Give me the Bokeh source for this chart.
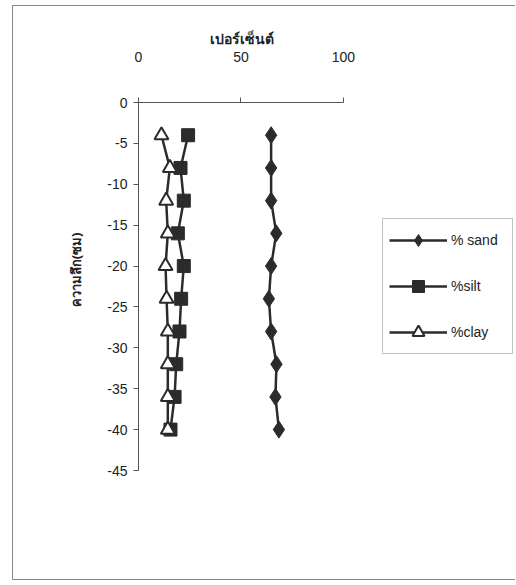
from bokeh.plotting import figure
from bokeh.models import (Range1d, FixedTicker, Legend, LegendItem, Title,
                          PrintfTickFormatter)
from bokeh.embed import file_html
from bokeh.resources import INLINE

# Soil texture by depth
depth = [-4, -8, -12, -16, -20, -24, -28, -32, -36, -40]
sand = [64.7, 64.7, 64.7, 67.2, 64.7, 63.6, 64.7, 67.3, 66.8, 68.5]
silt = [24.2, 20.5, 22.1, 19.2, 22.1, 20.8, 20.0, 18.4, 17.6, 15.6]
clay = [11.2, 15.3, 13.5, 14.3, 13.2, 13.7, 14.3, 14.3, 14.3, 14.3]

x_ticks = [0, 50, 100]
y_ticks = [0, -5, -10, -15, -20, -25, -30, -35, -40, -45]

INK = "#2b2b2b"
AXIS = "#555555"
FONT = "Liberation Sans"
THAI = "Noto Sans"

# the frame runs to the right edge so the legend can sit beside the axes;
# the x axis line itself is bounded to 0..100
p = figure(width=503, height=575, output_backend="svg", toolbar_location=None,
           x_range=Range1d(0, 184.4), y_range=Range1d(-45, 0),
           x_axis_location="above",
           min_border_left=125, min_border_right=0,
           min_border_top=96, min_border_bottom=111)
# chart border on the left, top and bottom edges
p.styles = {"margin-left": "12px", "margin-top": "5px",
            "border-left": "1px solid #8a8a8a", "border-top": "1px solid #8a8a8a",
            "border-bottom": "1px solid #8a8a8a"}
p.outline_line_color = None
p.xgrid.visible = False
p.ygrid.visible = False
p.background_fill_color = "white"
p.border_fill_color = "white"

# axes
xa = p.xaxis[0]
xa.ticker = FixedTicker(ticks=x_ticks)
xa.bounds = (0, 100)
xa.major_label_standoff = 36
ya = p.yaxis[0]
ya.ticker = FixedTicker(ticks=y_ticks)
ya.formatter = PrintfTickFormatter(format="%d")
ya.major_label_standoff = 6
for ax in (xa, ya):
    ax.axis_line_color = AXIS
    ax.major_tick_line_color = AXIS
    ax.minor_tick_line_color = None
    ax.major_tick_out = 5
    ax.major_tick_in = 0
    ax.major_label_text_font = FONT
    ax.major_label_text_font_size = "14px"
    ax.major_label_text_color = "#222222"

# axis titles, positioned over the 0..100 span and the depth scale
p.add_layout(Title(text="เปอร์เซ็นต์", align="left", offset=71, standoff=2,
                   text_font=THAI, text_font_style="bold",
                   text_font_size="14px", text_color="#222222"), "above")
p.add_layout(Title(text="ความลึก(ซม)", align="right", offset=130, standoff=40,
                   text_font=THAI, text_font_style="bold",
                   text_font_size="13px", text_color="#222222"), "left")

# series
l1 = p.line(sand, depth, line_color=INK, line_width=2.5)
s1 = p.scatter(sand, depth, marker="diamond", size=17, fill_color=INK, line_color=INK)
l2 = p.line(silt, depth, line_color=INK, line_width=2.5)
s2 = p.scatter(silt, depth, marker="square", size=13, fill_color=INK, line_color=INK)
l3 = p.line(clay, depth, line_color=INK, line_width=2.5)
s3 = p.scatter(clay, depth, marker="triangle", size=14, fill_color="white",
               line_color=INK, line_width=2)

legend = Legend(items=[
    LegendItem(label="% sand", renderers=[l1, s1]),
    LegendItem(label="%silt", renderers=[l2, s2]),
    LegendItem(label="%clay", renderers=[l3, s3]),
], location=(244, 116))
legend.border_line_color = "#888888"
legend.border_line_width = 1
legend.background_fill_alpha = 1
legend.glyph_width = 58
legend.glyph_height = 30
legend.label_height = 30
legend.label_width = 55
legend.spacing = 16
legend.padding = 6
legend.margin = 0
legend.label_text_font = FONT
legend.label_text_font_size = "14px"
legend.label_text_color = "#222222"
legend.label_standoff = 4
p.add_layout(legend, "center")

open("out.html", "w").write(file_html(p, INLINE))
